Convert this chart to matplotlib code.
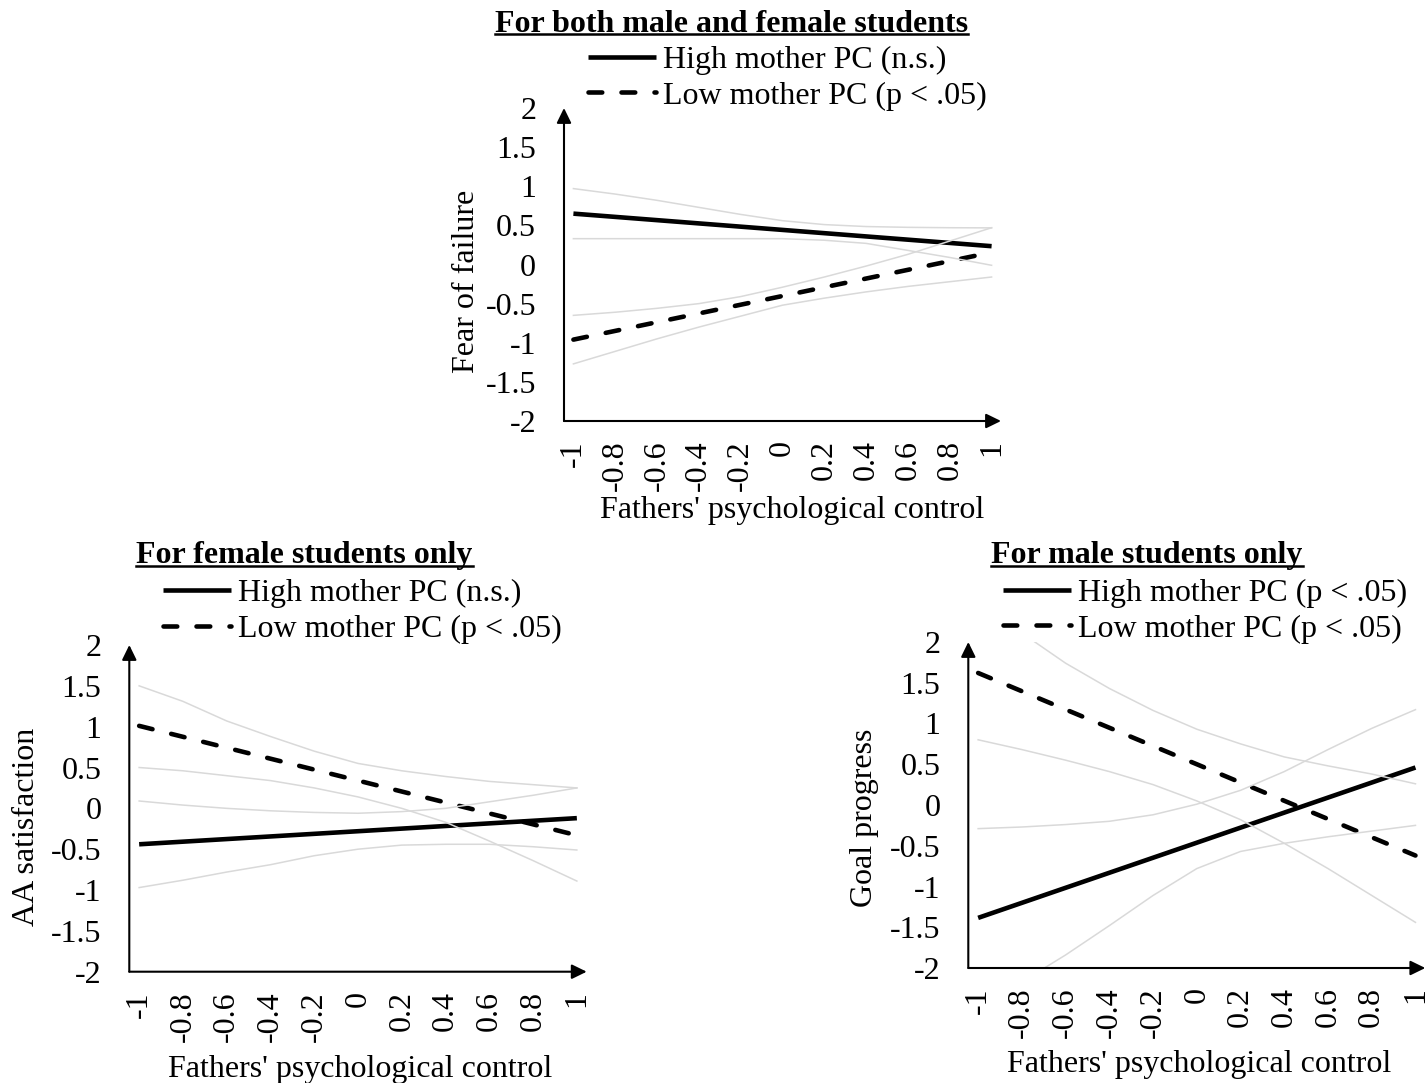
import matplotlib
matplotlib.use("Agg")
import matplotlib.pyplot as plt
from matplotlib.lines import Line2D

plt.rcParams["font.family"] = ["Liberation Serif", "DejaVu Serif"]
plt.rcParams["axes.unicode_minus"] = False

# x grid shared by every panel
x_vals = [-1, -0.8, -0.6, -0.4, -0.2, 0, 0.2, 0.4, 0.6, 0.8, 1]
x_labels = ["-1", "-0.8", "-0.6", "-0.4", "-0.2", "0", "0.2", "0.4", "0.6", "0.8", "1"]
line_x = [-1, 1]
y_ticks = [-2, -1.5, -1, -0.5, 0, 0.5, 1, 1.5, 2]
y_labels = ["-2", "-1.5", "-1", "-0.5", "0", "0.5", "1", "1.5", "2"]

# Fear of failure (both sexes)
fear_high = [0.65, 0.234]
fear_low = [-0.96, 0.155]
fear_bands = [
    [0.97, 0.90, 0.82, 0.73, 0.64, 0.56, 0.51, 0.485, 0.475, 0.47, 0.468],
    [0.33, 0.33, 0.33, 0.33, 0.33, 0.33, 0.31, 0.27, 0.18, 0.09, -0.01],
    [-0.65, -0.61, -0.56, -0.50, -0.41, -0.29, -0.16, -0.02, 0.13, 0.30, 0.47],
    [-1.27, -1.11, -0.95, -0.80, -0.66, -0.52, -0.43, -0.35, -0.28, -0.22, -0.16],
]

# AA satisfaction (female)
sat_high = [-0.44, -0.12]
sat_low = [1.01, -0.33]
sat_bands = [
    [1.50, 1.31, 1.07, 0.88, 0.70, 0.55, 0.46, 0.39, 0.33, 0.29, 0.25],
    [0.50, 0.46, 0.40, 0.34, 0.25, 0.14, 0.00, -0.17, -0.40, -0.64, -0.89],
    [0.09, 0.04, 0.0, -0.03, -0.05, -0.06, -0.04, 0.0, 0.08, 0.16, 0.25],
    [-0.97, -0.88, -0.78, -0.69, -0.58, -0.50, -0.45, -0.44, -0.44, -0.47, -0.51],
]

# Goal progress (male)
goal_high = [-1.385, 0.46]
goal_low = [1.62, -0.62]
goal_bands = [
    [2.45, 2.11, 1.74, 1.43, 1.16, 0.93, 0.75, 0.59, 0.48, 0.38, 0.26],
    [0.80, 0.68, 0.55, 0.41, 0.25, 0.05, -0.18, -0.47, -0.78, -1.11, -1.44],
    [-0.29, -0.27, -0.24, -0.20, -0.12, 0.01, 0.18, 0.41, 0.68, 0.94, 1.17],
    [-2.5, -2.17, -1.84, -1.48, -1.11, -0.78, -0.57, -0.47, -0.39, -0.32, -0.25],
]

W, H = 1427, 1083
FS = 23
fig = plt.figure(figsize=(W / 100, H / 100), dpi=100)


def px_axes(left, top, right, bottom):
    return fig.add_axes([left / W, 1 - bottom / H, (right - left) / W, (bottom - top) / H])


def panel(ax, high, low, bands, ylabel, labels, leg_xy, ylab_xy, xlab_xy):
    ax.set_xlim(-1.045, 1.045)
    ax.set_ylim(-2, 2)
    for s in ax.spines.values():
        s.set_visible(False)
    h1, = ax.plot(line_x, high, color="black", lw=3.3, solid_capstyle="butt")
    h2, = ax.plot(line_x, low, color="black", lw=3.3, linestyle=(0, (3, 4.2)),
                  dash_capstyle="round")
    for b in bands:
        ax.plot(x_vals, b, color="#d9d9d9", lw=1.1)
    ax.set_xticks(x_vals)
    ax.set_xticklabels(x_labels, rotation=90)
    ax.set_yticks(y_ticks)
    ax.set_yticklabels(y_labels)
    ax.tick_params(axis="both", length=0, labelsize=FS)
    ax.tick_params(axis="y", pad=20)
    ax.tick_params(axis="x", pad=14)
    arrow = dict(arrowstyle="-|>,head_length=0.45,head_width=0.22", color="black",
                 lw=1.5, shrinkA=0, shrinkB=0, mutation_scale=20)
    ax.annotate("", xy=(1, 0), xytext=(0, 0), xycoords="axes fraction", arrowprops=arrow)
    ax.annotate("", xy=(0, 1), xytext=(0, 0), xycoords="axes fraction", arrowprops=arrow)
    ax.set_ylabel(ylabel, fontsize=FS, va="center")
    ax.yaxis.set_label_coords(*ylab_xy)
    ax.set_xlabel("Fathers' psychological control", fontsize=FS, va="baseline")
    ax.xaxis.set_label_coords(*xlab_xy)
    ax.legend([h1, h2], labels, loc="center left", bbox_to_anchor=leg_xy, frameon=False,
              borderpad=0, borderaxespad=0, handlelength=2.13, handletextpad=0.22,
              labelspacing=0.2, fontsize=FS)


ax_top = px_axes(564, 108, 1001, 421)
panel(ax_top, fear_high, fear_low, fear_bands, "Fear of failure",
      ["High mother PC (n.s.)", "Low mother PC (p < .05)"],
      (0.055, 1.096), (-0.224, 0.445), (0.523, -0.31))

ax_bl = px_axes(129.3, 645, 586.7, 971.7)
panel(ax_bl, sat_high, sat_low, sat_bands, "AA satisfaction",
      ["High mother PC (n.s.)", "Low mother PC (p < .05)"],
      (0.074, 1.103), (-0.224, 0.443), (0.505, -0.322))

ax_br = px_axes(968.3, 642, 1425.3, 968)
panel(ax_br, goal_high, goal_low, goal_bands, "Goal progress",
      ["High mother PC (p < .05)", "Low mother PC (p < .05)"],
      (0.076, 1.095), (-0.228, 0.46), (0.506, -0.318))

titles = [("For both male and female students", 731.5, 31.5),
          ("For female students only", 304.5, 563),
          ("For male students only", 1147, 563)]
texts = []
for t, cx, base in titles:
    texts.append((fig.text(cx / W, 1 - base / H, t, ha="center", va="baseline",
                           fontsize=FS, fontweight="bold"), base))

fig.canvas.draw()
r = fig.canvas.get_renderer()
for txt, base in texts:
    bb = txt.get_window_extent(r)
    yy = 1 - (base + 2.5) / H
    fig.add_artist(Line2D([bb.x0 / W, bb.x1 / W], [yy, yy], color="black", lw=1.8,
                          transform=fig.transFigure))

fig.savefig("out.png", dpi=100)
plt.close(fig)
